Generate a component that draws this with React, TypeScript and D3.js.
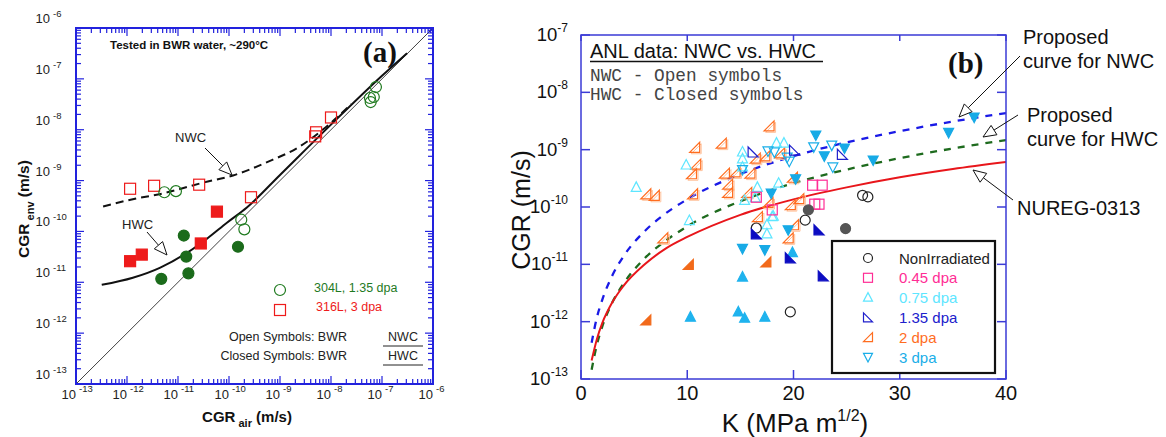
import React from "react";
import * as d3 from "d3";

const SANS = "'Liberation Sans', Arial, sans-serif";
const MONO = "'Liberation Mono', 'Courier New', monospace";
const SERIF = "'Liberation Serif', 'Times New Roman', serif";

// ---------- panel (a): [CGR air, CGR env] in m/s ----------
const nwcCurveA = [
  [3.4e-13, 3.1e-10], [1.3e-12, 4.3e-10], [5.1e-12, 5.6e-10], [3.1e-11, 9.1e-10],
  [1.2e-10, 1.26e-9], [5.6e-10, 2.3e-9], [2.45e-9, 4.7e-9], [7.9e-9, 1.12e-8],
  [2.5e-8, 3.2e-8],
];
const hwcCurveA = [
  [3.2e-13, 8.9e-12], [1.3e-12, 1.23e-11], [4.5e-12, 1.95e-11], [1.5e-11, 3.8e-11],
  [3.7e-11, 7.2e-11], [9.1e-11, 1.48e-10], [2.24e-10, 2.95e-10], [1.0e-9, 1.29e-9],
  [1.0e-8, 1.26e-8], [1.0e-7, 1.15e-7], [3.1e-7, 3.2e-7],
];
const oneToOne = [[1e-13, 1e-13], [1e-6, 1e-6]];
const s316Nwc = [
  [1.15e-12, 6.9e-10], [3.4e-12, 7.9e-10], [2.6e-11, 8.3e-10], [2.7e-10, 4.7e-10],
  [5.1e-9, 8.9e-9], [4.9e-9, 7.4e-9], [1.0e-8, 1.74e-8],
];
const s304Nwc = [
  [5.4e-12, 5.9e-10], [9.1e-12, 6.2e-10], [7.6e-8, 6.9e-8], [6.9e-8, 4.4e-8],
  [5.8e-8, 4.2e-8], [6.0e-8, 3.5e-8], [1.74e-10, 1.7e-10], [2.0e-10, 1.1e-10],
];
const s316Hwc = [[1.15e-12, 2.6e-11], [1.95e-12, 3.5e-11], [2.8e-11, 5.8e-11], [5.8e-11, 2.45e-10]];
const s304Hwc = [[4.7e-12, 1.17e-11], [1.3e-11, 8.3e-11], [1.45e-11, 3.2e-11], [1.6e-11, 1.5e-11], [1.5e-10, 5.0e-11]];
const decadesA = [-13, -12, -11, -10, -9, -8, -7, -6];

// ---------- panel (b): [K, CGR] ----------
const kCurve = [1, 1.5, 2, 3, 4, 6, 8, 10, 15, 20, 25, 30, 35, 40];
const nuregCgr = [2.1e-13, 5.0e-13, 9.4e-13, 2.26e-12, 4.2e-12, 1.0e-11, 1.9e-11, 3.0e-11, 7.3e-11, 1.36e-10, 2.2e-10, 3.3e-10, 4.6e-10, 6.1e-10];
const nwcCgr = [4.3e-13, 1.19e-12, 2.4e-12, 6.7e-12, 1.38e-11, 3.8e-11, 7.8e-11, 1.36e-10, 3.75e-10, 7.7e-10, 1.34e-9, 2.1e-9, 3.1e-9, 4.35e-9];
const hwcCgr = [1.45e-13, 4.0e-13, 8.2e-13, 2.26e-12, 4.6e-12, 1.28e-11, 2.6e-11, 4.6e-11, 1.26e-10, 2.6e-10, 4.5e-10, 7.1e-10, 1.05e-9, 1.47e-9];

const nonIrrOpen = [[16.5, 4.3e-11], [21.1, 5.9e-11], [19.7, 1.48e-12], [26.5, 1.6e-10], [27.0, 1.5e-10]];
const nonIrrFilled = [[21.4, 8.9e-11], [24.9, 4.2e-11]];
const dpa045Open = [[16.5, 1.48e-10], [18.0, 8.9e-11], [21.8, 2.4e-10], [22.7, 2.4e-10], [22.0, 1.12e-10], [22.4, 1.12e-10]];
const dpa075Open = [
  [5.2, 2.2e-10], [9.9, 5.4e-10], [10.2, 5.8e-11], [15.2, 9.1e-10], [15.2, 6.9e-10], [15.2, 5.0e-10],
  [16.6, 2.2e-10], [18.6, 2.6e-10], [18.4, 1.3e-9], [19.1, 1.3e-9], [15.4, 1.3e-10], [18.0, 6.8e-11],
  [16.4, 1.45e-10], [17.5, 4.9e-11], [17.5, 3.4e-11], [18.1, 6.9e-11],
];
const dpa075Filled = [[15.2, 6.0e-12], [10.3, 1.2e-12], [14.8, 1.48e-12], [15.4, 1.15e-12], [17.3, 1.2e-12], [19.9, 1.6e-11]];
const dpa135Open = [[16.2, 9.1e-10], [20.1, 9.8e-10], [24.6, 8.3e-10]];
const dpa135Filled = [[16.5, 3.4e-11], [19.7, 1.3e-11], [22.4, 4.0e-11], [22.8, 6.3e-12]];
const dpa2Open = [
  [17.7, 2.6e-9], [10.7, 1.1e-9], [13.2, 1.3e-9], [10.8, 5.6e-10], [10.4, 3.8e-10], [13.5, 3.9e-10],
  [14.5, 4.1e-10], [15.9, 3.9e-10], [16.4, 7.1e-10], [17.3, 7.8e-10], [18.7, 8.8e-10], [13.8, 2.5e-10],
  [13.8, 1.8e-10], [15.6, 1.8e-10], [6.1, 1.7e-10], [6.9, 1.6e-10], [10.5, 1.7e-10], [19.9, 3.3e-10],
  [17.6, 1.2e-10], [19.7, 1.1e-10], [20.5, 1.4e-10], [16.6, 6.8e-11], [7.7, 2.9e-11], [19.5, 2.9e-11],
  [20.0, 4.9e-11],
];
const dpa2Filled = [[10.1, 1.0e-11], [17.4, 1.1e-11], [6.1, 1.07e-12]];
const dpa3Open = [[15.2, 4.5e-10], [17.6, 9.5e-10], [18.2, 9.1e-10], [19.4, 7.4e-10], [19.6, 6.3e-10], [21.9, 1.12e-9], [23.6, 1.2e-9], [23.7, 5.0e-10]];
const dpa3Filled = [
  [22.1, 1.8e-9], [22.9, 7.8e-10], [24.8, 1.07e-9], [27.5, 6.6e-10], [37.0, 3.7e-9], [34.6, 2.0e-9],
  [17.9, 1.74e-10], [20.2, 3.1e-10], [15.2, 1.9e-11], [17.3, 1.8e-11], [19.5, 4.0e-11],
];
const legendB = [
  { label: "NonIrradiated", shape: "circle", color: "#222222" },
  { label: "0.45 dpa", shape: "square", color: "#ff2d95" },
  { label: "0.75 dpa", shape: "up", color: "#5ee6ff" },
  { label: "1.35 dpa", shape: "rl", color: "#2020cc" },
  { label: "2 dpa", shape: "rr", color: "#ff6d1f" },
  { label: "3 dpa", shape: "down", color: "#1aaee8" },
];
const kTicks = [0, 10, 20, 30, 40];
const decadesB = [-13, -12, -11, -10, -9, -8, -7];

function Marker({ shape, x, y, s, color, filled = false, sw = 1.2 }) {
  const h = s / 2;
  const p = { fill: filled ? color : "none", stroke: color, strokeWidth: sw };
  if (shape === "circle") return <circle cx={x} cy={y} r={h} {...p} />;
  if (shape === "square") return <rect x={x - h} y={y - h} width={s} height={s} {...p} />;
  let pts = "";
  if (shape === "up") pts = `${x},${y - h * 1.1} ${x - h},${y + h * 0.8} ${x + h},${y + h * 0.8}`;
  if (shape === "down") pts = `${x},${y + h * 1.1} ${x - h},${y - h * 0.8} ${x + h},${y - h * 0.8}`;
  if (shape === "rl") pts = `${x - h},${y - h} ${x - h},${y + h} ${x + h},${y + h}`;
  if (shape === "rr") pts = `${x + h},${y - h} ${x + h},${y + h} ${x - h},${y + h}`;
  return <polygon points={pts} {...p} strokeLinejoin="miter" />;
}

function Arrow({ x1, y1, x2, y2 }) {
  const a = Math.atan2(y2 - y1, x2 - x1);
  const L = 13, w = 5.5;
  const bx = x2 - L * Math.cos(a), by = y2 - L * Math.sin(a);
  const nx = -Math.sin(a) * w, ny = Math.cos(a) * w;
  return (
    <g>
      <line x1={x1} y1={y1} x2={bx} y2={by} stroke="#111" strokeWidth={1} />
      <polygon points={`${x2},${y2} ${bx + nx},${by + ny} ${bx - nx},${by - ny}`} fill="#fff" stroke="#111" strokeWidth={1} />
    </g>
  );
}

function PanelA() {
  const x = d3.scaleLog().domain([1e-13, 1e-6]).range([76, 433]);
  const y = d3.scaleLog().domain([1e-13, 1e-6]).range([384, 28]);
  const line = d3.line().x((d) => x(d[0])).y((d) => y(d[1])).curve(d3.curveMonotoneX);
  const blue = "#2222dd";
  const ticks = [];
  for (let d = -13; d < -6; d++) {
    for (let m = 1; m <= 9; m++) ticks.push({ v: m * Math.pow(10, d), major: m === 1 });
  }
  ticks.push({ v: 1e-6, major: true });
  const green = "#1f7a1f";
  const red = "#ee1b1b";
  return (
    <g>
      <defs>
        <clipPath id="clipA"><rect x={76} y={28} width={357} height={356} /></clipPath>
      </defs>
      <g clipPath="url(#clipA)">
        <path d={line(oneToOne)} fill="none" stroke="#111" strokeWidth={0.8} />
        <path d={line(nwcCurveA)} fill="none" stroke="#111" strokeWidth={2} strokeDasharray="8,5" />
        <path d={line(hwcCurveA)} fill="none" stroke="#111" strokeWidth={2} />
      </g>
      {ticks.map((t, i) => {
        const L = t.major ? 8 : 5;
        const px = x(t.v), py = y(t.v);
        return (
          <g key={i} stroke={blue} strokeWidth={1.2}>
            <line x1={px} x2={px} y1={28} y2={28 + L} />
            <line x1={px} x2={px} y1={384} y2={384 - L} />
            <line x1={76} x2={76 + L} y1={py} y2={py} />
            <line x1={433} x2={433 - L} y1={py} y2={py} />
          </g>
        );
      })}
      <rect x={76} y={28} width={357} height={356} fill="none" stroke={blue} strokeWidth={2} />
      {decadesA.map((d) => (
        <g key={"xl" + d} fontFamily={SANS} fill="#222">
          <text x={x(Math.pow(10, d))} y={399} fontSize={13} textAnchor="end">10</text>
          <text x={x(Math.pow(10, d)) + 3} y={392} fontSize={9.5}>{d}</text>
        </g>
      ))}
      {decadesA.map((d) => (
        <g key={"yl" + d} fontFamily={SANS} fill="#222">
          <text x={50} y={y(Math.pow(10, d)) - 5} fontSize={13} textAnchor="end">10</text>
          <text x={53} y={y(Math.pow(10, d)) - 11} fontSize={9.5}>{d}</text>
        </g>
      ))}
      {s316Nwc.map((d, i) => <Marker key={"rn" + i} shape="square" x={x(d[0])} y={y(d[1])} s={11} color={red} />)}
      {s304Nwc.map((d, i) => <Marker key={"gn" + i} shape="circle" x={x(d[0])} y={y(d[1])} s={11} color={green} />)}
      {s316Hwc.map((d, i) => <Marker key={"rh" + i} shape="square" x={x(d[0])} y={y(d[1])} s={11} color={red} filled />)}
      {s304Hwc.map((d, i) => <Marker key={"gh" + i} shape="circle" x={x(d[0])} y={y(d[1])} s={11} color="#1b6b1b" filled />)}

      <text x={110} y={49} fontFamily={SANS} fontSize={11.5} fontWeight="bold" fill="#111">Tested in BWR water, ~290°C</text>
      <text x={363} y={62} fontFamily={SERIF} fontSize={29} fontWeight="bold" fill="#111">(a)</text>
      <text x={175} y={142} fontFamily={SANS} fontSize={13} fill="#222">NWC</text>
      <Arrow x1={205} y1={148} x2={232} y2={175} />
      <text x={122} y={229} fontFamily={SANS} fontSize={13} fill="#222">HWC</text>
      <Arrow x1={147} y1={232} x2={167} y2={255} />

      <Marker shape="circle" x={280} y={290} s={11} color={green} />
      <text x={314} y={292} fontFamily={SANS} fontSize={12.5} fill={green}>304L, 1.35 dpa</text>
      <Marker shape="square" x={280} y={310} s={11} color={red} />
      <text x={316} y={311} fontFamily={SANS} fontSize={12.5} fill={red}>316L, 3 dpa</text>

      <g fontFamily={SANS} fontSize={12.5} fill="#222">
        <text x={347} y={341} textAnchor="end">Open Symbols: BWR</text>
        <text x={403} y={341} textAnchor="middle">NWC</text>
        <text x={347} y={360} textAnchor="end">Closed Symbols: BWR</text>
        <text x={403} y={360} textAnchor="middle">HWC</text>
      </g>
      <line x1={383} x2={423} y1={346} y2={346} stroke="#222" strokeWidth={1} />
      <line x1={383} x2={423} y1={365} y2={365} stroke="#222" strokeWidth={1} />

      <text x={247} y={422} textAnchor="middle" fontFamily={SANS} fontWeight="bold" fontSize={15} fill="#111">
        CGR<tspan fontSize={11} dy={5}> air</tspan><tspan dy={-5}>  (m/s)</tspan>
      </text>
      <text transform="translate(29,209) rotate(-90)" textAnchor="middle" fontFamily={SANS} fontWeight="bold" fontSize={15.5} fill="#111">
        CGR<tspan fontSize={11} dy={5}> env</tspan><tspan dy={-5}>  (m/s)</tspan>
      </text>
    </g>
  );
}

function PanelB() {
  const x = d3.scaleLinear().domain([0, 40]).range([581, 1006]);
  const y = d3.scaleLog().domain([1e-13, 1e-7]).range([379, 35]);
  const line = d3.line().x((d) => x(d[0])).y((d) => y(d[1])).curve(d3.curveMonotoneX);
  const pair = (vals) => kCurve.map((k, i) => [k, vals[i]]);
  const blue = "#3b3bd6";
  const series = [
    { data: dpa2Open, shape: "rr", color: "#ff6d1f", filled: false },
    { data: dpa075Open, shape: "up", color: "#5ee6ff", filled: false },
    { data: dpa045Open, shape: "square", color: "#ff2d95", filled: false },
    { data: dpa3Open, shape: "down", color: "#1aaee8", filled: false },
    { data: dpa135Open, shape: "rl", color: "#2020cc", filled: false },
    { data: nonIrrOpen, shape: "circle", color: "#222222", filled: false },
    { data: dpa2Filled, shape: "rr", color: "#f26a1b", filled: true },
    { data: dpa075Filled, shape: "up", color: "#1fb3ee", filled: true },
    { data: dpa3Filled, shape: "down", color: "#17aae6", filled: true },
    { data: dpa135Filled, shape: "rl", color: "#0c0cc2", filled: true },
    { data: nonIrrFilled, shape: "circle", color: "#555555", filled: true },
  ];
  return (
    <g>
      <defs>
        <clipPath id="clipB"><rect x={581} y={35} width={425} height={344} /></clipPath>
      </defs>
      <g clipPath="url(#clipB)">
        <path d={line(pair(nwcCgr))} fill="none" stroke="#1a1ae6" strokeWidth={2.3} strokeDasharray="7,7" />
        <path d={line(pair(hwcCgr))} fill="none" stroke="#1e6b1e" strokeWidth={2.3} strokeDasharray="7,7" />
        <path d={line(pair(nuregCgr))} fill="none" stroke="#e8161b" strokeWidth={2} />
      </g>
      {series.map((s, si) =>
        s.data.map((d, i) => (
          <g key={si + "-" + i}>
            {s.shape === "rr" && !s.filled && (
              <Marker shape="rr" x={x(d[0]) + 1.5} y={y(d[1]) + 1.5} s={10} color="#ffc29c" sw={1} />
            )}
            <Marker shape={s.shape} x={x(d[0])} y={y(d[1])} s={10} color={s.color} filled={s.filled} />
          </g>
        ))
      )}
      <rect x={581} y={35} width={425} height={344} fill="none" stroke={blue} strokeWidth={1.5} />
      {decadesB.map((d) => {
        const py = y(Math.pow(10, d));
        return (
          <g key={"yt" + d}>
            <line x1={581} x2={590} y1={py} y2={py} stroke={blue} strokeWidth={1.5} />
            <line x1={1006} x2={997} y1={py} y2={py} stroke={blue} strokeWidth={1.5} />
            <text x={568} y={py + 6} textAnchor="end" fontFamily={SANS} fontSize={18.5} fill="#111">
              10<tspan dy={-9} fontSize={12}>{d}</tspan>
            </text>
          </g>
        );
      })}
      {kTicks.map((k) => (
        <g key={"xt" + k}>
          <line x1={x(k)} x2={x(k)} y1={379} y2={370} stroke={blue} strokeWidth={1.5} />
          <line x1={x(k)} x2={x(k)} y1={35} y2={41} stroke={blue} strokeWidth={1.5} />
          <text x={x(k)} y={400} textAnchor="middle" fontFamily={SANS} fontSize={20} fill="#111">{k}</text>
        </g>
      ))}
      <text transform="translate(530,210) rotate(-90)" textAnchor="middle" fontFamily={SANS} fontSize={25} fill="#111">CGR (m/s)</text>
      <text x={795} y={432} textAnchor="middle" fontFamily={SANS} fontSize={26} fill="#111">
        K (MPa m<tspan dy={-11} fontSize={16}>1/2</tspan><tspan dy={11}>)</tspan>
      </text>

      <text x={590} y={58} fontFamily={SANS} fontSize={20} fill="#111">ANL data: NWC vs. HWC</text>
      <line x1={590} x2={823} y1={61.5} y2={61.5} stroke="#111" strokeWidth={1.3} />
      <text x={590} y={81} fontFamily={MONO} fontSize={17.8} fill="#444">NWC - Open symbols</text>
      <text x={590} y={100} fontFamily={MONO} fontSize={17.8} fill="#444">HWC - Closed symbols</text>
      <text x={948} y={73} fontFamily={SERIF} fontSize={29} fontWeight="bold" fill="#111">(b)</text>

      <g fontFamily={SANS} fontSize={20} fill="#111">
        <text x={1023} y={44}>Proposed</text>
        <text x={1023} y={68}>curve for NWC</text>
        <text x={1027} y={122}>Proposed</text>
        <text x={1027} y={146}>curve for HWC</text>
        <text x={1017} y={215}>NUREG-0313</text>
      </g>
      <Arrow x1={1020} y1={56} x2={959} y2={117} />
      <Arrow x1={1018} y1={115} x2={983} y2={137} />
      <Arrow x1={1013} y1={200} x2={973} y2={170} />

      <rect x={832} y={241} width={163} height={132} fill="#fff" stroke="#111" strokeWidth={2.2} />
      {legendB.map((e, i) => {
        const ry = 258 + i * 19.8;
        return (
          <g key={e.label}>
            <Marker shape={e.shape} x={868} y={ry} s={9} color={e.color} />
            <text x={899} y={ry + 5.5} fontFamily={SANS} fontSize={15} fill={e.color}>{e.label}</text>
          </g>
        );
      })}
    </g>
  );
}

export default function App() {
  return (
    <svg width={1166} height={437} style={{ position: "absolute", left: 0, top: 0, background: "#fff" }}>
      <rect width={1166} height={437} fill="#fff" />
      <PanelA />
      <PanelB />
    </svg>
  );
}
